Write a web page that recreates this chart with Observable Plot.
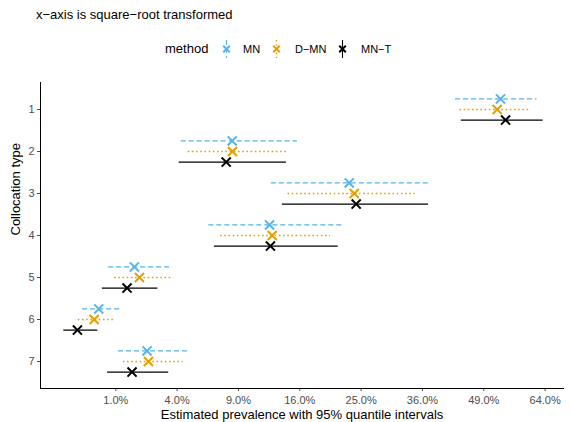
<!DOCTYPE html>
<html>
<head>
<meta charset="utf-8">
<script src="https://cdn.jsdelivr.net/npm/d3@7"></script>
<script src="https://cdn.jsdelivr.net/npm/@observablehq/plot@0.6"></script>
<style>
  body { margin: 0; background: #fff; font-family: "Liberation Sans", Arial, sans-serif; }
  #wrap { position: relative; width: 570px; height: 422px; }
  #header { position: relative; height: 64px; }
  .abs { position: absolute; white-space: nowrap; line-height: 16px; }
</style>
</head>
<body>
<div id="wrap">
  <div id="header"></div>
  <div id="chart"></div>
</div>
<script>
// ---- data ----
const types = ["1", "2", "3", "4", "5", "6", "7"];
const methods = ["MN", "D−MN", "MN−T"];
const colors = ["#56B4E9", "#E69F00", "#000000"];
const xTicks = [0.01, 0.04, 0.09, 0.16, 0.25, 0.36, 0.49, 0.64];

const mnEst  = [0.529, 0.084, 0.231, 0.123, 0.0170, 0.0052, 0.0228];
const mnLo   = [0.4275, 0.0427, 0.125, 0.0633, 0.0078, 0.0021, 0.0109];
const mnHi   = [0.619, 0.157, 0.374, 0.220, 0.0353, 0.0122, 0.0485];

const dmnEst = [0.521, 0.0842, 0.239, 0.126, 0.0192, 0.0042, 0.0235];
const dmnLo  = [0.437, 0.0475, 0.145, 0.0733, 0.0096, 0.0015, 0.0126];
const dmnHi  = [0.602, 0.144, 0.346, 0.2025, 0.0375, 0.0099, 0.0440];

const mntEst = [0.541, 0.0784, 0.242, 0.124, 0.0140, 0.0014, 0.0160];
const mntLo  = [0.440, 0.0413, 0.138, 0.068, 0.0061, 0.00023, 0.0075];
const mntHi  = [0.635, 0.143, 0.372, 0.214, 0.0284, 0.0050, 0.0347];

const series = [
  {method: methods[0], est: mnEst, lo: mnLo, hi: mnHi},
  {method: methods[1], est: dmnEst, lo: dmnLo, hi: dmnHi},
  {method: methods[2], est: mntEst, lo: mntLo, hi: mntHi}
];

// ---- styles per method ----
const dashes = ["5,3", "1.6,2.6", null];
const widths = [1.1, 1.4, 1.1];
const offsets = [-10.6, 0, 10.6];

// ---- header: title + legend ----
const header = document.getElementById("header");
function addSpan(text, left, top, size, color) {
  const s = document.createElement("span");
  s.className = "abs";
  s.textContent = text;
  s.style.left = left + "px";
  s.style.top = top + "px";
  s.style.fontSize = size + "px";
  s.style.color = color || "#000";
  header.appendChild(s);
  return s;
}
addSpan("x−axis is square−root transformed", 36, 7, 13);
addSpan("method", 165, 41, 13);
const keyX = [226.7, 276.7, 342.3];
const labX = [243, 295, 361];
methods.forEach((m, i) => {
  const ns = "http://www.w3.org/2000/svg";
  const svg = document.createElementNS(ns, "svg");
  svg.setAttribute("width", 17);
  svg.setAttribute("height", 18);
  svg.style.position = "absolute";
  svg.style.left = (keyX[i] - 8.5) + "px";
  svg.style.top = (49 - 9) + "px";
  const ln = document.createElementNS(ns, "line");
  ln.setAttribute("x1", 8.5); ln.setAttribute("x2", 8.5);
  ln.setAttribute("y1", 0); ln.setAttribute("y2", 18);
  ln.setAttribute("stroke", colors[i]);
  ln.setAttribute("stroke-width", widths[i]);
  if (dashes[i]) ln.setAttribute("stroke-dasharray", dashes[i]);
  svg.appendChild(ln);
  const p = document.createElementNS(ns, "path");
  p.setAttribute("d", "M5.2,5.7L11.8,12.3M11.8,5.7L5.2,12.3");
  p.setAttribute("stroke", colors[i]);
  p.setAttribute("stroke-width", 2);
  p.setAttribute("fill", "none");
  svg.appendChild(p);
  header.appendChild(svg);
  addSpan(m, labX[i], 41, 11);
});

// ---- chart ----
const marks = [];
series.forEach((s, i) => {
  const data = types.map((t, j) => ({type: t, est: s.est[j], lo: s.lo[j], hi: s.hi[j]}));
  marks.push(Plot.ruleY(data, {
    y: "type", x1: "lo", x2: "hi", dy: offsets[i],
    stroke: colors[i], strokeWidth: widths[i],
    strokeDasharray: dashes[i] || undefined
  }));
  marks.push(Plot.dot(data, {
    x: "est", y: "type", dy: offsets[i], symbol: "times",
    stroke: colors[i], strokeWidth: 2, r: 4.2
  }));
});

const chart = Plot.plot({
  width: 570,
  height: 358,
  marginTop: 18,
  marginBottom: 34,
  marginLeft: 40,
  marginRight: 7,
  style: {fontFamily: "Liberation Sans, Arial, sans-serif", fontSize: "11px", background: "#fff"},
  x: {type: "pow", exponent: 0.5, domain: [-(0.0228 * 0.0228), 0.83 * 0.83], range: [40, 563]},
  y: {type: "point", domain: types, padding: 0.6},
  marks: [
    Plot.axisX({ticks: xTicks, tickFormat: d3.format(".1%"), tickSize: 3, tickPadding: 5, color: "#4D4D4D", label: null, fontSize: 11}),
    Plot.axisY({tickSize: 3, tickPadding: 3, color: "#4D4D4D", label: null, fontSize: 11}),
    Plot.frame({anchor: "left", stroke: "#000", strokeWidth: 1}),
    Plot.frame({anchor: "bottom", stroke: "#000", strokeWidth: 1}),
    ...marks,
    Plot.text([0], {frameAnchor: "bottom", dy: 30, text: () => "Estimated prevalence with 95% quantile intervals", fontSize: 13, fill: "#000"}),
    Plot.text([0], {frameAnchor: "left", dx: -25, rotate: -90, text: () => "Collocation type", fontSize: 13, fill: "#000"})
  ]
});
document.getElementById("chart").appendChild(chart);
</script>
</body>
</html>
